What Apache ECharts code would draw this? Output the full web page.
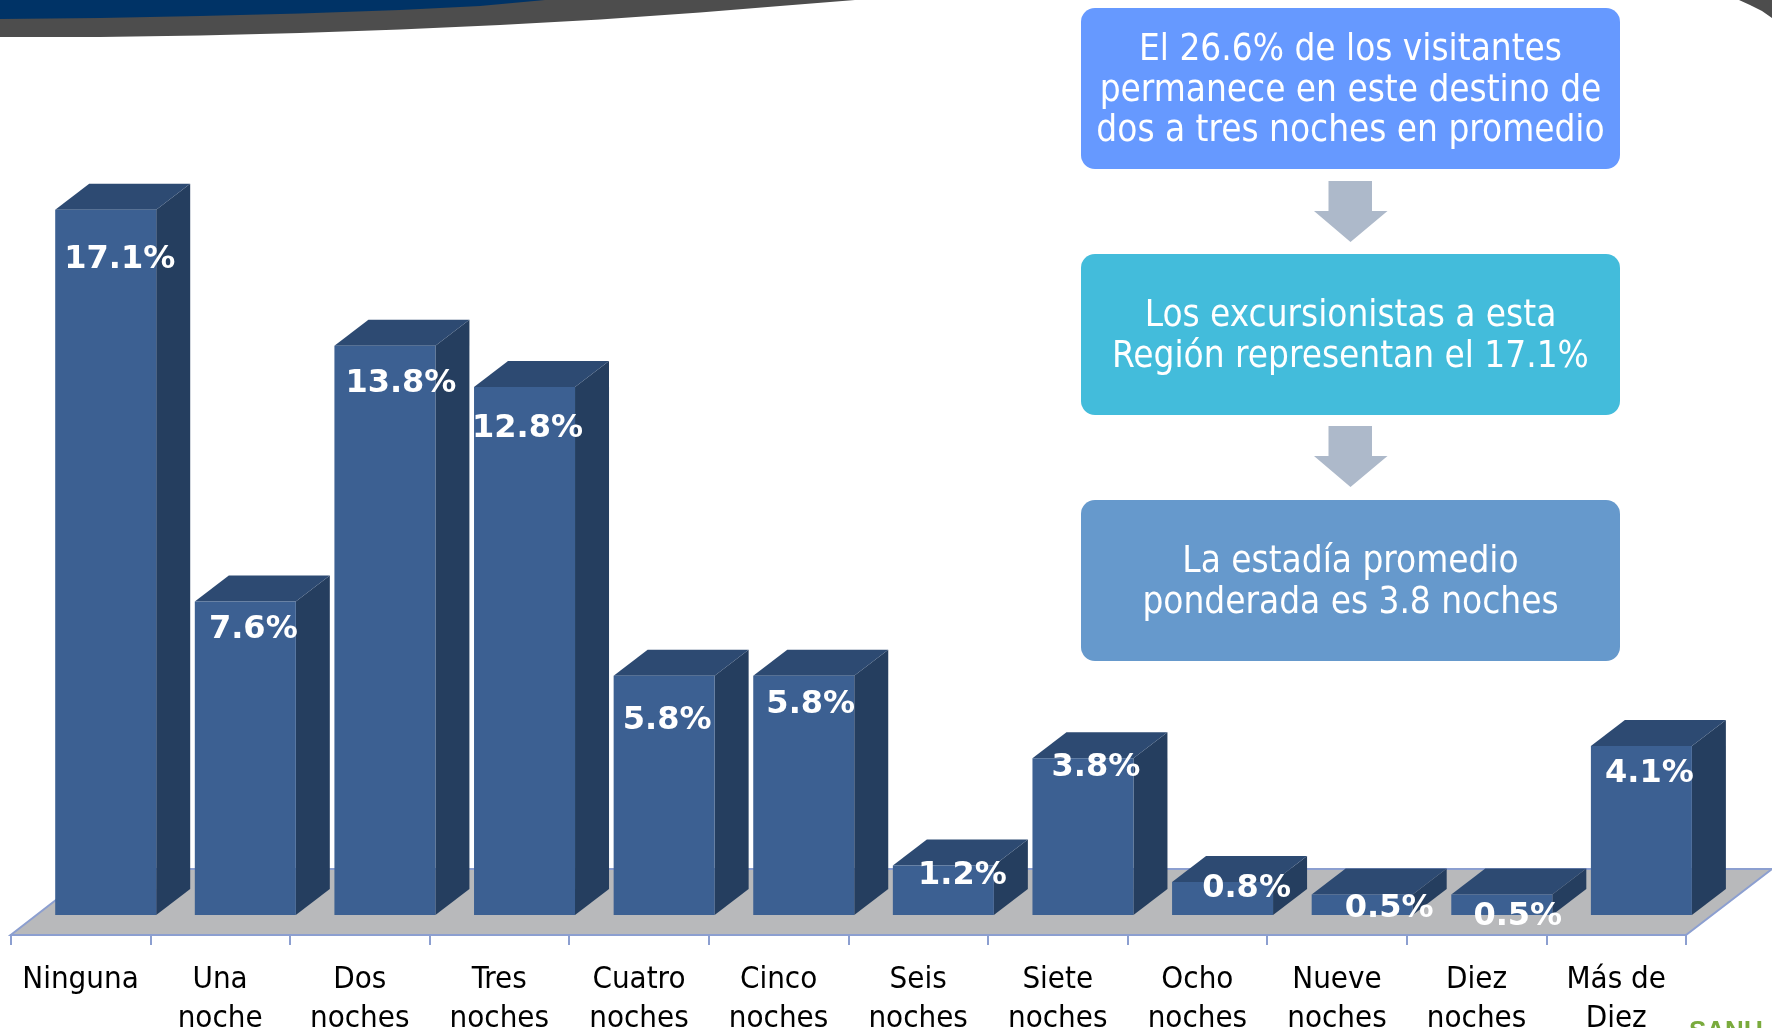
<!DOCTYPE html>
<html>
<head>
<meta charset="utf-8">
<style>html,body{margin:0;padding:0;background:#fff}#chart{width:1772px;height:1028px}</style>
<script src="https://cdn.jsdelivr.net/npm/echarts@6/dist/echarts.min.js"></script>
</head>
<body>
<div id="chart"></div>
<script>
const categories = ['Ninguna','Una\nnoche','Dos\nnoches','Tres\nnoches','Cuatro\nnoches','Cinco\nnoches','Seis\nnoches','Siete\nnoches','Ocho\nnoches','Nueve\nnoches','Diez\nnoches','Más de\nDiez'];
const values = [17.1,7.6,13.8,12.8,5.8,5.8,1.2,3.8,0.8,0.5,0.5,4.1];
const labelNudgeX = [14,8,16,3,3,7,19,13,24,27,16,8];
const labelNudgeY = [50,28,38,42,45,29,10,9,7,14,22,28];
const boxTexts = [
  'El 26.6% de los visitantes\npermanece en este destino de\ndos a tres noches en promedio',
  'Los excursionistas a esta\nRegión representan el 17.1%',
  'La estadía promedio\nponderada es 3.8 noches'
];
const boxColors = ['#6699FF','#43BCDB','#6699CC'];
const boxTops = [8,254,500];

const FONT = '"DejaVu Sans Condensed", "Liberation Sans", sans-serif';
const chart = echarts.init(document.getElementById('chart'), null, {renderer:'canvas'});

const DX = 34, DY = 26, SHIFT = 25.2, BARW = 101;

function renderBar(params, api){
  const i = api.value(0), v = api.value(1);
  const top = api.coord([i, v]), base = api.coord([i, 0]);
  const cx = top[0] + SHIFT, x0 = cx - BARW/2, x1 = cx + BARW/2, yT = top[1], yB = base[1];
  return {type:'group', children:[
    {type:'polygon', shape:{points:[[x1,yT],[x1+DX,yT-DY],[x1+DX,yB-DY],[x1,yB]]}, style:{fill:'#253E5F'}},
    {type:'polygon', shape:{points:[[x0,yT],[x0+DX,yT-DY],[x1+DX,yT-DY],[x1,yT]]}, style:{fill:'#2D4A72'}},
    {type:'rect', shape:{x:x0,y:yT,width:BARW,height:yB-yT}, style:{fill:'#3C6092'}},
    {type:'text', z2:10, style:{
      x:cx+labelNudgeX[i], y:yT+labelNudgeY[i], text:v.toFixed(1)+'%',
      align:'center', verticalAlign:'middle',
      font:'bold 32px "DejaVu Sans", sans-serif', fill:'#fff',
      shadowColor:'rgba(0,0,0,0.7)', shadowBlur:3, shadowOffsetX:2, shadowOffsetY:2
    }}
  ]};
}

function box(i){
  return {type:'group', children:[
    {type:'rect', shape:{x:1081,y:boxTops[i],width:539,height:161,r:14}, style:{fill:boxColors[i]}},
    {type:'text', style:{x:1350.5,y:boxTops[i]+83,text:boxTexts[i],align:'center',verticalAlign:'middle',
      font:'36.6px '+FONT,lineHeight:40.7,fill:'#fff'}}
  ]};
}
function arrow(y){
  return {type:'polygon', shape:{points:[[1328.5,y],[1372,y],[1372,y+30],[1387.5,y+30],[1350.5,y+61],[1314,y+30],[1328.5,y+30]]}, style:{fill:'#ADB9CA'}};
}

chart.setOption({
  animation:false,
  backgroundColor:'#fff',
  grid:{left:10.7,right:86,top:90,bottom:113,containLabel:false,outerBoundsMode:'none'},
  xAxis:{type:'category',data:categories,offset:20,
    axisLine:{onZero:false,lineStyle:{color:'#8C9FD0',width:2}},
    axisTick:{show:true,alignWithLabel:false,length:10,lineStyle:{color:'#8C9FD0',width:2}},
    axisLabel:{color:'#000',fontFamily:FONT,fontSize:31,lineHeight:39,margin:25,interval:0,hideOverlap:false}
  },
  yAxis:{type:'value',min:0,max:20,show:false},
  series:[{type:'custom',renderItem:renderBar,encode:{x:0,y:1},clip:false,
    data:values.map((v,i)=>[i,v]),z:5}],
  graphic:[
    {type:'polygon',silent:true,z:-2,shape:{points:[[0,37],[100,37],[200,35.5],[300,33],[400,29.5],[500,25],[600,19.5],[700,12.5],[780,6],[855,0],[0,0]]},style:{fill:'#4D4D4D'}},
    {type:'polygon',silent:true,z:-1,shape:{points:[[0,19],[100,18],[200,16],[300,13.5],[400,10],[480,6],[545,0],[0,0]]},style:{fill:'#003366'}},
    {type:'polygon',silent:true,z:-2,shape:{points:[[1739,0],[1750,5],[1762,11],[1772,18],[1772,0]]},style:{fill:'#4D4D4D'}},
    {type:'polygon',silent:true,z:-3,shape:{points:[[10.7,935],[96,869],[1772,869],[1686,935]]},
      style:{fill:'#B8B9BB',stroke:'#8C9FD0',lineWidth:2}},
    box(0),box(1),box(2),arrow(181),arrow(426),
    {type:'text',silent:true,style:{x:1689,y:1019,text:'SANU',verticalAlign:'top',font:'bold 26px "Liberation Sans", sans-serif',fill:'#7AAB3D'}}
  ]
});
</script>
</body>
</html>
